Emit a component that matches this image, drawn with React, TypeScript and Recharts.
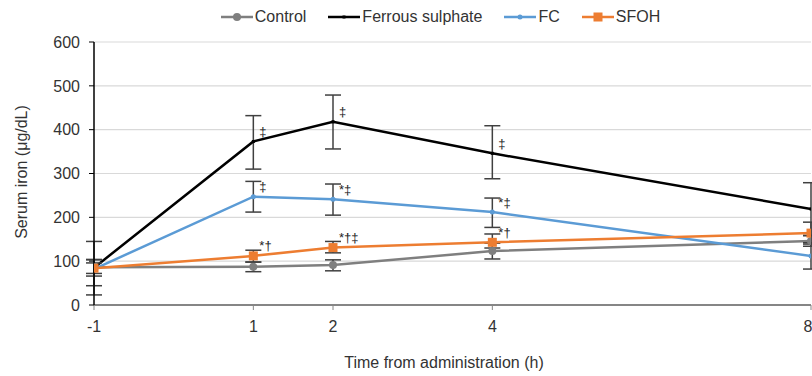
import React from 'react';
import { LineChart, Line, XAxis, YAxis, CartesianGrid, Legend, ErrorBar, LabelList, Label } from 'recharts';

const times = [-1, 1, 2, 4, 8];
const controlValues = [86, 87, 91, 123, 146];
const controlErrors = [[42, 18], [11, 11], [13, 12], [18, 18], [12, 12]];
const ferrousValues = [85, 373, 418, 346, 219];
const ferrousErrors = [[62, 60], [63, 59], [62, 61], [58, 63], [60, 60]];
const fcValues = [82, 247, 241, 212, 112];
const fcErrors = [[16, 21], [35, 35], [36, 35], [35, 32], [30, 30]];
const sfohValues = [84, 112, 131, 143, 164];
const sfohErrors = [[12, 12], [14, 13], [12, 14], [13, 19], [25, 25]];
const ferrousMarks = ['', '‡', '‡', '‡', ''];
const fcMarks = ['', '‡', '*‡', '*‡', ''];
const sfohMarks = ['', '*†', '*†‡', '*†', ''];
const yTicks = [0, 100, 200, 300, 400, 500, 600];
const xTicks = [-1, 1, 2, 4, 8];
const seriesOrder = ['control', 'ferrous', 'fc', 'sfoh'];

const data = times.map((t, i) => ({
  time: t,
  control: controlValues[i],
  controlErr: controlErrors[i],
  ferrous: ferrousValues[i],
  ferrousErr: ferrousErrors[i],
  fc: fcValues[i],
  fcErr: fcErrors[i],
  sfoh: sfohValues[i],
  sfohErr: sfohErrors[i],
  ferrousMark: ferrousMarks[i],
  fcMark: fcMarks[i],
  sfohMark: sfohMarks[i],
}));

const GRAY = '#7f7f7f';
const BLACK = '#000000';
const BLUE = '#5b9bd5';
const ORANGE = '#ed7d31';
const FONT = '"Liberation Sans", Arial, sans-serif';

const markerFor = (key: string, cx: number, cy: number, k: string) => {
  if (key === 'control') return <circle key={k} cx={cx} cy={cy} r={4} fill={GRAY} />;
  if (key === 'ferrous') return <rect key={k} x={cx - 1.5} y={cy - 1.5} width={3} height={3} fill={BLACK} />;
  if (key === 'fc') return <circle key={k} cx={cx} cy={cy} r={2.5} fill={BLUE} />;
  return <rect key={k} x={cx - 4.5} y={cy - 4.5} width={9} height={9} fill={ORANGE} />;
};

const makeDot = (key: string) => (p: any) => {
  if (p.cx == null || p.cy == null) return <g key={`${key}-${p.index}`} />;
  return markerFor(key, p.cx, p.cy, `${key}-${p.index}`);
};

const markLabel = (p: any) => {
  if (!p.value) return null;
  return (
    <text x={p.x + 6} y={p.y - 9} fontSize={13} fill="#222" stroke="none" textAnchor="start" dominantBaseline="middle" fontFamily={FONT}>
      {p.value}
    </text>
  );
};

const LegendContent = (props: any) => {
  const payload = [...(props.payload || [])].sort(
    (a: any, b: any) => seriesOrder.indexOf(a.dataKey) - seriesOrder.indexOf(b.dataKey)
  );
  return (
    <div style={{ height: 42, boxSizing: 'border-box', paddingTop: 7, paddingLeft: 70, display: 'flex', justifyContent: 'center', fontFamily: FONT, fontSize: 16, color: '#333' }}>
      {payload.map((item: any, i: number) => (
        <div key={item.dataKey} style={{ display: 'flex', alignItems: 'center', marginLeft: i === 0 ? 0 : 22, height: 20 }}>
          <svg width={32} height={12} style={{ marginRight: 2 }}>
            <line x1={0} y1={6} x2={32} y2={6} stroke={item.color} strokeWidth={2.5} />
            {markerFor(item.dataKey, 16, 6, 'lg')}
          </svg>
          <span>{item.value}</span>
        </div>
      ))}
    </div>
  );
};

export default function App() {
  return (
    <div style={{ position: 'absolute', left: 0, top: 0, width: 812, height: 376, background: '#fff', fontFamily: FONT }}>
      <LineChart width={812} height={376} data={data} margin={{ top: 0, right: 1, bottom: 0, left: 0 }}>
        <CartesianGrid vertical={false} stroke="#d9d9d9" strokeWidth={1.2} />
        <Legend verticalAlign="top" align="center" content={<LegendContent />} />
        <XAxis
          dataKey="time"
          type="number"
          domain={[-1, 8]}
          ticks={xTicks}
          allowDataOverflow
          height={71}
          axisLine={{ stroke: '#868686', strokeWidth: 2 }}
          tickLine={{ stroke: '#868686' }}
          tickSize={5}
          tickMargin={11}
          tick={{ fontSize: 16, fill: '#333', fontFamily: FONT }}
        >
          <Label
            content={() => (
              <text x={444} y={368} textAnchor="middle" fontSize={16} fill="#333" fontFamily={FONT}>
                Time from administration (h)
              </text>
            )}
          />
        </XAxis>
        <YAxis
          type="number"
          domain={[0, 600]}
          ticks={yTicks}
          width={94}
          axisLine={{ stroke: '#000', strokeWidth: 1.5 }}
          tickLine={{ stroke: '#000' }}
          tickSize={5}
          tickMargin={9}
          tick={{ fontSize: 16, fill: '#333', fontFamily: FONT }}
        >
          <Label
            content={() => (
              <text x={27} y={172} transform="rotate(-90 27 172)" textAnchor="middle" fontSize={16} fill="#333" fontFamily={FONT}>
                Serum iron (μg/dL)
              </text>
            )}
          />
        </YAxis>
        <Line dataKey="control" name="Control" stroke={GRAY} strokeWidth={2.5} dot={makeDot('control')} activeDot={false} isAnimationActive={false}>
          <ErrorBar dataKey="controlErr" direction="y" width={8} stroke="#404040" strokeWidth={1.5} />
        </Line>
        <Line dataKey="ferrous" name="Ferrous sulphate" stroke={BLACK} strokeWidth={2.5} dot={makeDot('ferrous')} activeDot={false} isAnimationActive={false}>
          <ErrorBar dataKey="ferrousErr" direction="y" width={8} stroke="#404040" strokeWidth={1.5} />
          <LabelList dataKey="ferrousMark" content={markLabel} />
        </Line>
        <Line dataKey="fc" name="FC" stroke={BLUE} strokeWidth={2.5} dot={makeDot('fc')} activeDot={false} isAnimationActive={false}>
          <ErrorBar dataKey="fcErr" direction="y" width={8} stroke="#404040" strokeWidth={1.5} />
          <LabelList dataKey="fcMark" content={markLabel} />
        </Line>
        <Line dataKey="sfoh" name="SFOH" stroke={ORANGE} strokeWidth={2.5} dot={makeDot('sfoh')} activeDot={false} isAnimationActive={false}>
          <ErrorBar dataKey="sfohErr" direction="y" width={8} stroke="#404040" strokeWidth={1.5} />
          <LabelList dataKey="sfohMark" content={markLabel} />
        </Line>
      </LineChart>
    </div>
  );
}
